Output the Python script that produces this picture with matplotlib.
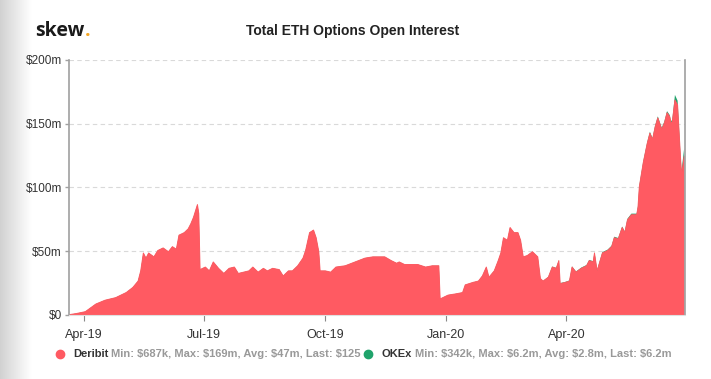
import matplotlib.pyplot as plt
import matplotlib.dates as mdates
import numpy as np
import pandas as pd

# Deribit open interest, $m
deribit_dates = [
    "2019-03-21", "2019-03-26", "2019-04-02", "2019-04-10", "2019-04-17", "2019-04-25",
    "2019-05-03", "2019-05-08", "2019-05-12", "2019-05-14", "2019-05-16", "2019-05-18",
    "2019-05-20", "2019-05-24", "2019-05-27", "2019-05-31", "2019-06-04", "2019-06-07",
    "2019-06-10", "2019-06-12", "2019-06-16", "2019-06-19", "2019-06-21", "2019-06-23",
    "2019-06-26", "2019-06-27", "2019-06-28", "2019-07-02", "2019-07-05", "2019-07-08",
    "2019-07-12", "2019-07-16", "2019-07-20", "2019-07-24", "2019-07-27", "2019-07-31",
    "2019-08-04", "2019-08-07", "2019-08-11", "2019-08-15", "2019-08-18", "2019-08-22",
    "2019-08-27", "2019-08-30", "2019-09-03", "2019-09-06", "2019-09-10", "2019-09-14",
    "2019-09-16", "2019-09-19", "2019-09-22", "2019-09-24", "2019-09-26", "2019-09-27",
    "2019-10-01", "2019-10-05", "2019-10-09", "2019-10-16", "2019-10-21", "2019-10-26",
    "2019-10-31", "2019-11-06", "2019-11-10", "2019-11-15", "2019-11-20", "2019-11-24",
    "2019-11-26", "2019-11-30", "2019-12-05", "2019-12-10", "2019-12-16", "2019-12-21",
    "2019-12-26", "2019-12-27", "2020-01-02", "2020-01-08", "2020-01-13", "2020-01-15",
    "2020-01-21", "2020-01-25", "2020-01-28", "2020-01-31", "2020-02-02", "2020-02-06",
    "2020-02-09", "2020-02-11", "2020-02-13", "2020-02-16", "2020-02-18", "2020-02-21",
    "2020-02-24", "2020-02-26", "2020-02-28", "2020-03-02", "2020-03-06", "2020-03-10",
    "2020-03-12", "2020-03-14", "2020-03-18", "2020-03-21", "2020-03-24", "2020-03-26",
    "2020-03-27", "2020-03-31", "2020-04-03", "2020-04-05", "2020-04-08", "2020-04-12",
    "2020-04-16", "2020-04-18", "2020-04-21", "2020-04-22", "2020-04-24", "2020-04-28",
    "2020-05-02", "2020-05-05", "2020-05-07", "2020-05-10", "2020-05-13", "2020-05-15",
    "2020-05-17", "2020-05-20", "2020-05-24", "2020-05-25", "2020-05-26", "2020-05-29",
    "2020-06-01", "2020-06-03", "2020-06-05", "2020-06-07", "2020-06-09", "2020-06-12",
    "2020-06-14", "2020-06-16", "2020-06-18", "2020-06-19", "2020-06-20", "2020-06-22",
    "2020-06-24", "2020-06-26", "2020-06-27", "2020-06-29",
]
deribit_oi = [
    0.7, 1.5, 3, 9, 12, 14,
    18, 22, 27, 35, 49, 45,
    49, 46, 51, 53, 50, 54,
    52, 63, 65, 68, 72, 77,
    87, 80, 36, 38, 35, 42,
    37, 33, 37, 38, 33, 34,
    35, 38, 34, 37, 35, 37,
    36, 31, 35, 35, 39, 45,
    51, 65, 67, 61, 50, 35,
    35, 34, 38, 39, 41, 43,
    45, 46, 46, 46, 43, 41,
    42, 40, 40, 40, 38, 39,
    39, 13, 16, 17, 18, 24,
    26, 27, 31, 38, 30, 35,
    43, 49, 61, 59, 69, 65,
    65, 59, 46, 47, 50, 46,
    29, 27, 30, 38, 37, 43,
    25, 26, 27, 38, 34, 37,
    39, 43, 42, 49, 35, 49,
    51, 54, 61, 60, 69, 65,
    75, 79, 79, 85, 101, 120,
    135, 143, 138, 148, 155, 146,
    151, 159, 156, 151, 152, 169,
    165, 128, 110, 125,
]

# OKEx open interest, $m (stacked on top)
okex_dates = [
    "2020-03-18", "2020-03-21", "2020-03-24", "2020-03-26", "2020-03-27", "2020-03-31",
    "2020-04-03", "2020-04-05", "2020-04-08", "2020-04-12", "2020-04-16", "2020-04-18",
    "2020-04-21", "2020-04-22", "2020-04-24", "2020-04-28", "2020-05-02", "2020-05-05",
    "2020-05-07", "2020-05-10", "2020-05-13", "2020-05-15", "2020-05-17", "2020-05-20",
    "2020-05-24", "2020-05-25", "2020-05-26", "2020-05-29", "2020-06-01", "2020-06-03",
    "2020-06-05", "2020-06-07", "2020-06-09", "2020-06-12", "2020-06-14", "2020-06-16",
    "2020-06-18", "2020-06-19", "2020-06-20", "2020-06-22", "2020-06-24", "2020-06-26",
    "2020-06-27", "2020-06-29",
]
okex_oi = [
    0.34, 0.4, 0.4, 0.5, 0.4, 0.4,
    0.5, 0.5, 0.5, 0.6, 0.6, 0.6,
    0.6, 0.7, 0.7, 0.7, 0.7, 0.8,
    0.8, 0.8, 0.8, 0.9, 0.9, 0.9,
    0.9, 1.0, 1.0, 1.0, 1.0, 1.1,
    1.1, 1.1, 1.2, 1.2, 1.2, 1.3,
    1.3, 1.4, 1.5, 4.0, 3.5, 2.0,
    3.5, 6.2,
]

y_ticks = [0, 50, 100, 150, 200]
y_labels = [r"\$0", r"\$50m", r"\$100m", r"\$150m", r"\$200m"]
x_ticks = ["2019-04-01", "2019-07-01", "2019-10-01", "2020-01-01", "2020-04-01"]

RED = "#ff5a62"
GREEN = "#1fa36b"

deribit = pd.Series(deribit_oi, index=pd.to_datetime(deribit_dates))
okex = pd.Series(okex_oi, index=pd.to_datetime(okex_dates)).reindex(deribit.index).fillna(0)
top = deribit + okex

plt.rcParams['font.family'] = ['Liberation Sans', 'DejaVu Sans']

fig = plt.figure(figsize=(7.11, 3.79), dpi=100)

# grey shadow on the left edge of the screenshot
shade = fig.add_axes([0, 0, 0.045, 1])
grad = np.linspace(0.82, 1.0, 64)[None, :]
shade.imshow(grad, cmap='gray', vmin=0, vmax=1, aspect='auto', extent=[0, 1, 0, 1])
shade.axis('off')

ax = fig.add_axes([69 / 711, 1 - 315 / 379, 616 / 711, 255 / 379])

ax.fill_between(deribit.index, 0, top, color=GREEN, lw=0)
ax.fill_between(deribit.index, 0, deribit, facecolor=RED, edgecolor=RED, lw=0.7)

ax.set_ylim(0, 200)
ax.set_xlim(pd.Timestamp("2019-03-21"), pd.Timestamp("2020-06-30"))

ax.set_yticks(y_ticks)
ax.set_yticklabels(y_labels)
ax.set_xticks(pd.to_datetime(x_ticks))
ax.xaxis.set_major_formatter(mdates.DateFormatter('%b-%y'))

for v in y_ticks[1:]:
    ax.axhline(v, color='#d9d9d9', lw=0.8, ls=(0, (4, 3)), zorder=0)

ax.spines['top'].set_visible(False)
ax.spines['left'].set_color('#a0a0a0')
ax.spines['right'].set_color('#a0a0a0')
ax.spines['bottom'].set_color('#e0e0e0')
ax.spines['left'].set_linewidth(1.2)
ax.spines['right'].set_linewidth(1.2)

ax.tick_params(axis='y', length=3, width=1, color='#a0a0a0', pad=2,
               labelsize=8.5, labelcolor='#333333')
ax.tick_params(axis='x', length=4, width=0.8, color='#888888', pad=6,
               labelsize=9, labelcolor='#333333')

fig.text(0.4965, 1 - 31 / 379, "Total ETH Options Open Interest", ha='center', va='center',
         fontsize=10, fontweight='bold', color='#222222')

logo = fig.text(35 / 711, 1 - 31 / 379, "skew", ha='left', va='center', fontsize=14,
                fontweight='bold', color='#1a1a1a', family=['Open Sans', 'DejaVu Sans'])
fig.canvas.draw()
lb = logo.get_window_extent()
fig.text(lb.x1 / 711 + 0.001, 1 - 31 / 379, ".", ha='left', va='center', fontsize=14,
         fontweight='bold', color='#f5a623', family=['Open Sans', 'DejaVu Sans'])

# legend
ly = 1 - 354 / 379
fig.add_artist(plt.Line2D([60 / 711], [ly], marker='o', ms=6, color=RED, lw=0))
t1 = fig.text(73 / 711, ly, "Deribit", ha='left', va='center', fontsize=8,
              fontweight='bold', color='#333333')
fig.canvas.draw()
b1 = t1.get_window_extent()
fig.text(b1.x1 / 711 + 0.004, ly, r"Min: \$687k, Max: \$169m, Avg: \$47m, Last: \$125",
         ha='left', va='center', fontsize=8, fontweight='bold', color='#999999')

fig.add_artist(plt.Line2D([368 / 711], [ly], marker='o', ms=6, color=GREEN, lw=0))
t2 = fig.text(382 / 711, ly, "OKEx", ha='left', va='center', fontsize=8,
              fontweight='bold', color='#333333')
fig.canvas.draw()
b2 = t2.get_window_extent()
fig.text(b2.x1 / 711 + 0.004, ly, r"Min: \$342k, Max: \$6.2m, Avg: \$2.8m, Last: \$6.2m",
         ha='left', va='center', fontsize=8, fontweight='bold', color='#999999')

fig.savefig('out.png', dpi=100)
